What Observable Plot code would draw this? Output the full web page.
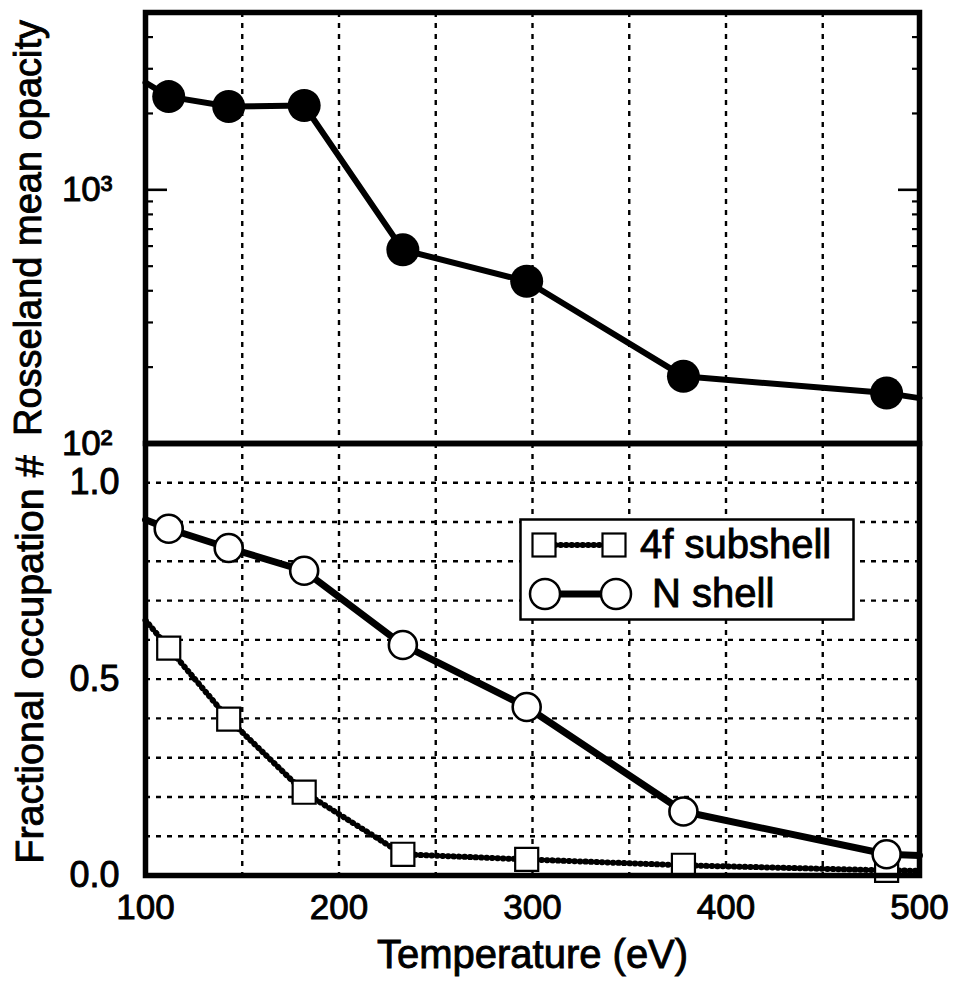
<!DOCTYPE html>
<html><head><meta charset="utf-8">
<script src="https://cdn.jsdelivr.net/npm/d3@7"></script>
<script src="https://cdn.jsdelivr.net/npm/@observablehq/plot@0.6"></script>
<style>
body{margin:0;background:#fff;}
#wrap{position:relative;width:956px;height:981px;font-family:"Liberation Sans",Arial,Helvetica,sans-serif;}
#top,#bot,#legend{position:absolute;left:0;}
#top{top:0px;} #bot{top:438px;}
#legend{left:519px;top:518px;}
#wrap text{stroke:black;stroke-width:0.9px;paint-order:stroke;}
</style></head><body>
<div id="wrap"><div id="top"></div><div id="bot"></div>
<svg id="legend" width="338" height="105" font-family="Liberation Sans, Arial, sans-serif">
  <rect x="1.5" y="1.5" width="333" height="100" fill="white" stroke="black" stroke-width="2.5"/>
  <line x1="36" y1="27" x2="95" y2="27" stroke="black" stroke-width="6" stroke-dasharray="0.5,5" stroke-linecap="round"/>
  <rect x="13.5" y="15.5" width="23" height="23" fill="white" stroke="black" stroke-width="2.2"/>
  <rect x="83.5" y="15.5" width="23" height="23" fill="white" stroke="black" stroke-width="2.2"/>
  <text x="121" y="40" font-size="40">4f subshell</text>
  <line x1="26" y1="76" x2="97" y2="76" stroke="black" stroke-width="7"/>
  <circle cx="26" cy="76" r="15" fill="white" stroke="black" stroke-width="2.5"/>
  <circle cx="97" cy="76" r="15" fill="white" stroke="black" stroke-width="2.5"/>
  <text x="133" y="89" font-size="40">N shell</text>
</svg>
</div>
<script>
// ---- data ----
const temperature = [112, 143, 182, 233, 297, 378, 483];      // eV
const opacity     = [2330, 2130, 2150, 580, 436, 184, 158];   // Rosseland mean opacity
const nShell      = [0.883, 0.834, 0.776, 0.587, 0.429, 0.163, 0.054];
const f4Subshell  = [0.579, 0.398, 0.212, 0.054, 0.041, 0.026, 0.013];
// where the curves leave the frame (T = 100 and 500 eV)
const edgeT          = [100, 500];
const opacityEdge    = [2650, 151];
const nShellEdge     = [0.906, 0.051];
const f4SubshellEdge = [0.65, 0.012];
// ticks / grid
const xTicks = [100, 200, 300, 400, 500];
const xGrid = [150, 200, 250, 300, 350, 400, 450];
const opacityLabelTicks = [100, 1000];
const opacityMinor = [200, 300, 400, 500, 600, 700, 800, 900, 2000, 3000, 4000];
const opacityMajor = [1000];
const fracTicks = [0, 0.5, 1.0];
const fracGrid = [0.1, 0.2, 0.3, 0.4, 0.5, 0.6, 0.7, 0.8, 0.9, 1.0];
const xLabel = "Temperature (eV)";
const yLabelTop = "Rosseland mean opacity";
const yLabelBottom = "Fractional occupation #";

const pts = (ys) => temperature.map((t, i) => ({t, v: ys[i]}));
const withEdges = (ys, edge) => [{t: edgeT[0], v: edge[0]}, ...pts(ys), {t: edgeT[1], v: edge[1]}];

const font = '"Liberation Sans", Arial, Helvetica, sans-serif';
const gridStyle = {stroke: "black", strokeWidth: 2.4, strokeDasharray: "5,6", strokeOpacity: 1};

const topPlot = Plot.plot({
  width: 956, height: 448,
  marginLeft: 145, marginRight: 37, marginTop: 12, marginBottom: 5,
  style: {background: "transparent", overflow: "visible", fontFamily: font, color: "black"},
  x: {domain: [100, 500], axis: null},
  y: {type: "log", domain: [100, 5000], axis: null},
  marks: [
    Plot.ruleX(xGrid, gridStyle),
    Plot.axisY(opacityMinor, {anchor: "left", tickSize: -8, tickFormat: () => "", strokeWidth: 2.2, label: null}),
    Plot.axisY(opacityMinor, {anchor: "right", tickSize: -8, tickFormat: () => "", strokeWidth: 2.2, label: null}),
    Plot.axisY(opacityMajor, {anchor: "left", tickSize: -22, tickFormat: () => "", strokeWidth: 2.6, label: null}),
    Plot.axisY(opacityMajor, {anchor: "right", tickSize: -22, tickFormat: () => "", strokeWidth: 2.6, label: null}),
    Plot.axisY(opacityLabelTicks, {anchor: "left", tickSize: 0, tickPadding: 33, fontSize: 35,
      tickFormat: d => d === 100 ? "10²" : "10³", label: null}),
    Plot.axisY([], {anchor: "left", tickSize: 0, label: yLabelTop, labelAnchor: "center", labelOffset: 131, labelArrow: "none", fontSize: 38}),
    Plot.line(withEdges(opacity, opacityEdge), {x: "t", y: "v", stroke: "black", strokeWidth: 6}),
    Plot.dot(pts(opacity), {x: "t", y: "v", r: 16.5, fill: "black", stroke: "none"}),
    Plot.frame({stroke: "black", strokeWidth: 5.5})
  ]
});
document.getElementById("top").appendChild(topPlot);

const botPlot = Plot.plot({
  width: 956, height: 543,
  marginLeft: 145, marginRight: 37, marginTop: 5, marginBottom: 106,
  style: {background: "transparent", overflow: "visible", fontFamily: font, color: "black"},
  x: {domain: [100, 500], axis: null},
  y: {domain: [0, 1.1], axis: null},
  marks: [
    Plot.ruleX(xGrid, gridStyle),
    Plot.ruleY(fracGrid, gridStyle),
    Plot.axisX(xTicks, {anchor: "bottom", tickSize: 0, tickPadding: 19, fontSize: 35, label: null}),
    Plot.axisX([], {anchor: "bottom", tickSize: 0, label: xLabel, labelAnchor: "center", labelOffset: 92, labelArrow: "none", fontSize: 40}),
    Plot.axisY(fracTicks, {anchor: "left", tickSize: 0, tickPadding: 26, fontSize: 36, tickFormat: d3.format(".1f"), label: null}),
    Plot.axisY([], {anchor: "left", tickSize: 0, label: yLabelBottom, labelAnchor: "center", labelOffset: 131, labelArrow: "none", fontSize: 39.5}),
    Plot.line(withEdges(f4Subshell, f4SubshellEdge), {x: "t", y: "v", stroke: "black", strokeWidth: 6, strokeDasharray: "0.5,5", strokeLinecap: "round"}),
    Plot.dot(pts(f4Subshell), {x: "t", y: "v", symbol: "square", r: 13, fill: "white", stroke: "black", strokeWidth: 2.2}),
    Plot.line(withEdges(nShell, nShellEdge), {x: "t", y: "v", stroke: "black", strokeWidth: 7}),
    Plot.dot(pts(nShell), {x: "t", y: "v", r: 14, fill: "white", stroke: "black", strokeWidth: 2.6}),
    Plot.frame({stroke: "black", strokeWidth: 5.5})
  ]
});
document.getElementById("bot").appendChild(botPlot);
</script>
</body></html>
